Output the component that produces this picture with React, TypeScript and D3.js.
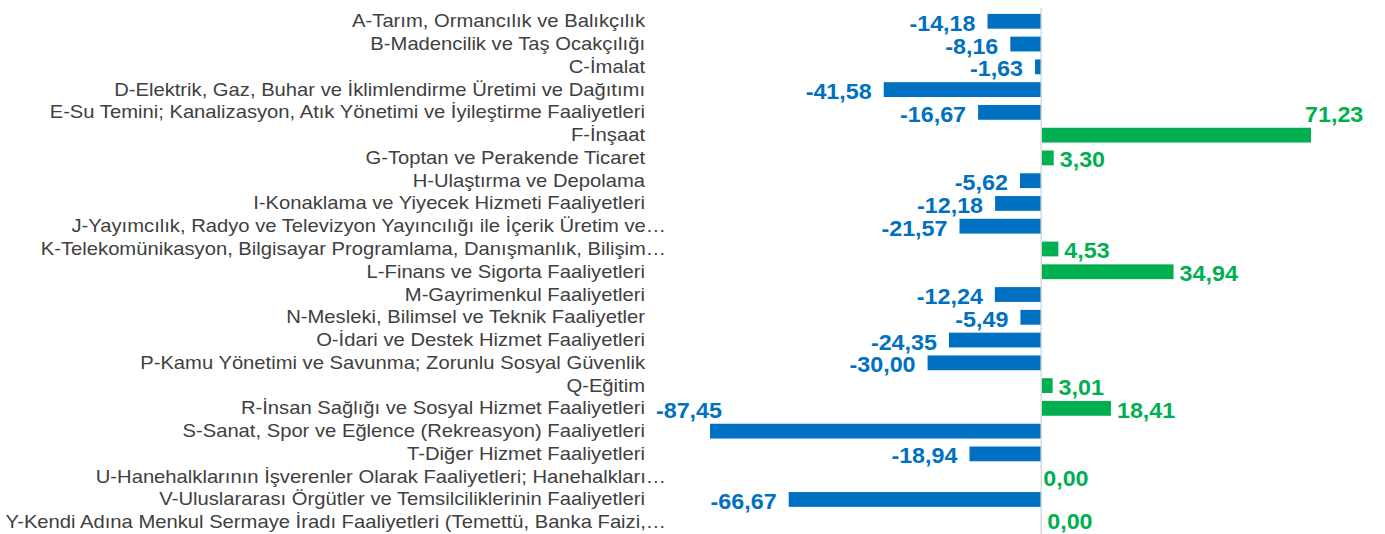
import React from "react";
import * as d3 from "d3";

const categories: string[] = [
  "A-Tarım, Ormancılık ve Balıkçılık",
  "B-Madencilik ve Taş Ocakçılığı",
  "C-İmalat",
  "D-Elektrik, Gaz, Buhar ve İklimlendirme Üretimi ve Dağıtımı",
  "E-Su Temini; Kanalizasyon, Atık Yönetimi ve İyileştirme Faaliyetleri",
  "F-İnşaat",
  "G-Toptan ve Perakende Ticaret",
  "H-Ulaştırma ve Depolama",
  "I-Konaklama ve Yiyecek Hizmeti Faaliyetleri",
  "J-Yayımcılık, Radyo ve Televizyon Yayıncılığı ile İçerik Üretim ve…",
  "K-Telekomünikasyon, Bilgisayar Programlama, Danışmanlık, Bilişim…",
  "L-Finans ve Sigorta Faaliyetleri",
  "M-Gayrimenkul Faaliyetleri",
  "N-Mesleki, Bilimsel ve Teknik Faaliyetler",
  "O-İdari ve Destek Hizmet Faaliyetleri",
  "P-Kamu Yönetimi ve Savunma; Zorunlu Sosyal Güvenlik",
  "Q-Eğitim",
  "R-İnsan Sağlığı ve Sosyal Hizmet Faaliyetleri",
  "S-Sanat, Spor ve Eğlence (Rekreasyon) Faaliyetleri",
  "T-Diğer Hizmet Faaliyetleri",
  "U-Hanehalklarının İşverenler Olarak Faaliyetleri; Hanehalkları…",
  "V-Uluslararası Örgütler ve Temsilciliklerinin Faaliyetleri",
  "Y-Kendi Adına Menkul Sermaye İradı Faaliyetleri (Temettü, Banka Faizi,…",
];

const values: number[] = [
  -14.18, -8.16, -1.63, -41.58, -16.67, 71.23, 3.3, -5.62, -12.18, -21.57, 4.53,
  34.94, -12.24, -5.49, -24.35, -30.0, 3.01, 18.41, -87.45, -18.94, 0.0, -66.67, 0.0,
];

const BLUE = "#0070C0";
const GREEN = "#00B050";

export default function App() {
  const W = 1385;
  const H = 534;
  const x = d3.scaleLinear().domain([-87.45, 71.23]).range([710, 1311]);
  const y = d3
    .scaleBand<string>()
    .domain(categories)
    .range([9.9, 533.6])
    .paddingInner(0.35)
    .paddingOuter(0.175);
  const bw = y.bandwidth();
  const fmt = (v: number) => v.toFixed(2).replace(".", ",");
  const x0 = x(0);
  const catFs = 17.5;
  const catSx = 1.155;
  const valFs = 22;
  const valSx = 1.06;

  return (
    <svg width={W} height={H} style={{ position: "absolute", left: 0, top: 0 }}>
      <rect width={W} height={H} fill="#ffffff" />
      {values.map((v, i) => {
        const c = categories[i];
        const yc = (y(c) as number) + bw / 2;
        const left = Math.min(x(v), x0);
        const w = Math.abs(x(v) - x0);
        return (
          <rect
            key={"b" + i}
            x={left}
            y={yc - bw / 2}
            width={w}
            height={bw}
            fill={v < 0 ? BLUE : GREEN}
          />
        );
      })}
      <line x1={x0} x2={x0} y1={8} y2={H} stroke="#d9d9d9" strokeWidth={1.5} />
      {categories.map((c, i) => {
        const yc = (y(c) as number) + bw / 2;
        const ell = c.endsWith("…");
        const tx = ell ? 666 : 645;
        return (
          <text
            key={"c" + i}
            transform={`translate(${tx},${yc + 6}) scale(${catSx},1)`}
            textAnchor="end"
            fontFamily="'Liberation Sans', Arial, sans-serif"
            fontSize={catFs}
            fill="#404040"
          >
            {c}
          </text>
        );
      })}
      {values.map((v, i) => {
        let row = i;
        const anchor: "start" | "end" = v < 0 ? "end" : "start";
        let lx = v < 0 ? x(v) - 12 : x(v) + 6;
        if (i === 5) {
          row = i - 1;
          lx = x(v) - 6;
        }
        if (i === 18) {
          row = i - 1;
          lx = x(v) + 12;
        }
        if (i === 20) lx = x(v) + 2;
        const yc = (y(categories[row]) as number) + bw / 2;
        const by = Math.min(yc + 9.5, 529);
        return (
          <text
            key={"v" + i}
            transform={`translate(${lx},${by}) scale(${valSx},1)`}
            textAnchor={anchor}
            fontFamily="'Liberation Sans', Arial, sans-serif"
            fontWeight="bold"
            fontSize={valFs}
            fill={v < 0 ? BLUE : GREEN}
          >
            {fmt(v)}
          </text>
        );
      })}
    </svg>
  );
}
